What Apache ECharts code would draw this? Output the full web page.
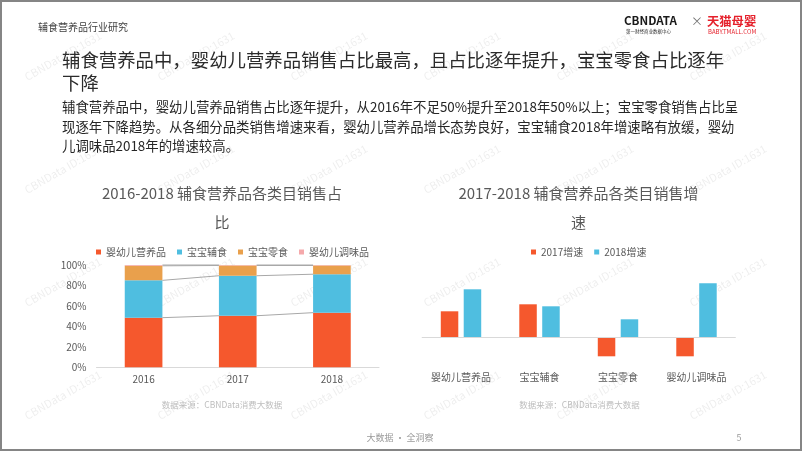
<!DOCTYPE html>
<html>
<head>
<meta charset="utf-8">
<script src="https://cdn.jsdelivr.net/npm/echarts@6/dist/echarts.min.js"></script>
<style>
html,body{margin:0;padding:0;background:#fff;}
#wrap{position:relative;width:802px;height:451px;overflow:hidden;}
#chart{position:absolute;left:0;top:0;width:802px;height:451px;}
#frame{position:absolute;left:0;top:0;width:802px;height:451px;box-sizing:border-box;border:2px solid #858585;pointer-events:none;}
</style>
</head>
<body>
<div id="wrap"><div id="chart"></div><div id="frame"></div></div>
<script>
// ---- data ----
const years = ['2016', '2017', '2018'];
const shareNames = ['婴幼儿营养品', '宝宝辅食', '宝宝零食', '婴幼儿调味品'];
const shareNutrition = [48.5, 50.4, 53.4];
const shareComplementary = [36.5, 39.1, 37.6];
const shareSnack = [14.2, 10.0, 8.5];
const shareSeasoning = [0.8, 0.5, 0.5];
const shareTicks = [0, 20, 40, 60, 80, 100];

const growthCats = ['婴幼儿营养品', '宝宝辅食', '宝宝零食', '婴幼儿调味品'];
const growthNames = ['2017增速', '2018增速'];
const growth2017 = [26, 33, -19, -19];
const growth2018 = [48, 31, 18, 54];

// ---- styles ----
const FONT = "'Noto Sans CJK SC', 'Noto Sans', sans-serif";
const RED = '#F5582D', BLUE = '#4FBEE0', ORANGE = '#E9A04C', PINK = '#F5A9AB';
const AXIS_TXT = '#595959';

// cumulative tops for Excel-style series lines
const shareSeries = [shareNutrition, shareComplementary, shareSnack, shareSeasoning];
const levels = [];
let acc = years.map(() => 0);
shareSeries.forEach(s => { acc = acc.map((v, i) => v + s[i]); levels.push(acc.slice()); });
const seriesLineData = [];
levels.forEach(L => { for (let i = 0; i < years.length - 1; i++) seriesLineData.push([i, L[i], L[i + 1]]); });

const chart = echarts.init(document.getElementById('chart'), null, {renderer: 'canvas'});

function txt(x, y, text, size, color, extra) {
  return {
    type: 'text', x: x, y: y, silent: true,
    style: Object.assign({text: text, fontSize: size, fontFamily: FONT, fill: color, verticalAlign: 'middle', align: 'left'}, extra || {})
  };
}

const graphics = [];
// watermarks
for (let j = 0; j < 4; j++) {
  for (let k = -1; k < 7; k++) {
    graphics.push({
      type: 'text', x: 63 + 133 * k, y: 56 + 113 * j, rotation: 0.52, silent: true, z: -10,
      style: {text: 'CBNData ID:1631', fontSize: 11, fontFamily: FONT, fill: 'rgba(0,0,0,0.07)', align: 'center', verticalAlign: 'middle'}
    });
  }
}
graphics.push(
  txt(38, 27, '辅食营养品行业研究', 10, '#404040'),
  txt(624, 21, 'CBNDATA', 11.6, '#1a1a1a', {fontWeight: 'bold'}),
  txt(626, 31.5, '第一财经商业数据中心', 4.5, '#333'),
  txt(691, 21, '×', 12, '#777'),
  txt(707, 21, '天猫母婴', 12.3, '#E5202B', {fontWeight: 'bold'}),
  txt(708, 31.5, 'BABY.TMALL.COM', 6, '#E5202B'),
  txt(62, 60, '辅食营养品中，婴幼儿营养品销售占比最高，且占比逐年提升，宝宝零食占比逐年', 18.4, '#2b2b2b'),
  txt(62, 83, '下降', 18.4, '#2b2b2b'),
  txt(62, 107, '辅食营养品中，婴幼儿营养品销售占比逐年提升，从2016年不足50%提升至2018年50%以上；宝宝零食销售占比呈', 13.4, '#262626'),
  txt(62, 127, '现逐年下降趋势。从各细分品类销售增速来看，婴幼儿营养品增长态势良好，宝宝辅食2018年增速略有放缓，婴幼', 13.4, '#262626'),
  txt(62, 146, '儿调味品2018年的增速较高。', 13.4, '#262626'),
  txt(222, 193.5, '2016-2018 辅食营养品各类目销售占', 15, AXIS_TXT, {align: 'center'}),
  txt(222, 221.8, '比', 15, AXIS_TXT, {align: 'center'}),
  txt(578.5, 193.5, '2017-2018 辅食营养品各类目销售增', 15, AXIS_TXT, {align: 'center'}),
  txt(578.5, 221.8, '速', 15, AXIS_TXT, {align: 'center'}),
  txt(222, 405, '数据来源：CBNData消费大数据', 8.5, '#bdbdbd', {align: 'center'}),
  txt(579.5, 405, '数据来源：CBNData消费大数据', 8.5, '#bdbdbd', {align: 'center'}),
  txt(400, 438, '大数据 · 全洞察', 9, '#9a9a9a', {align: 'center'}),
  txt(739, 438, '5', 9, '#9a9a9a', {align: 'center'})
);

const option = {
  animation: false,
  textStyle: {fontFamily: FONT},
  graphic: graphics,
  legend: [
    {
      data: shareNames, left: 91, top: 242, itemWidth: 5, itemHeight: 5, itemGap: 11, icon: 'rect',
      textStyle: {fontSize: 10, color: AXIS_TXT, fontFamily: FONT}, selectedMode: false
    },
    {
      data: growthNames, left: 526, top: 242, itemWidth: 5, itemHeight: 5, itemGap: 11, icon: 'rect',
      textStyle: {fontSize: 10, color: AXIS_TXT, fontFamily: FONT}, selectedMode: false
    }
  ],
  grid: [
    {left: 96.5, top: 265, width: 282.5, height: 102.3},
    {left: 421.75, top: 257.3, width: 314, height: 110}
  ],
  xAxis: [
    {
      type: 'category', gridIndex: 0, data: years,
      axisLine: {lineStyle: {color: '#d9d9d9'}}, axisTick: {show: false},
      axisLabel: {color: AXIS_TXT, fontSize: 10, margin: 7, fontFamily: FONT}
    },
    {
      type: 'category', gridIndex: 1, data: growthCats,
      axisLine: {show: false, onZero: false}, axisTick: {show: false},
      axisLabel: {color: AXIS_TXT, fontSize: 10, margin: 5, fontFamily: FONT}
    }
  ],
  yAxis: [
    {
      type: 'value', gridIndex: 0, min: shareTicks[0], max: shareTicks[shareTicks.length - 1], interval: 20,
      axisLine: {show: false}, axisTick: {show: false}, splitLine: {show: false},
      axisLabel: {color: AXIS_TXT, fontSize: 10, margin: 10, formatter: '{value}%', fontFamily: FONT}
    },
    {
      type: 'value', gridIndex: 1, min: -30, max: 80, show: false, splitLine: {show: false}
    }
  ],
  series: [
    {name: shareNames[0], type: 'bar', stack: 'share', xAxisIndex: 0, yAxisIndex: 0, barWidth: '40%', data: shareNutrition, itemStyle: {color: RED}},
    {name: shareNames[1], type: 'bar', stack: 'share', xAxisIndex: 0, yAxisIndex: 0, barWidth: '40%', data: shareComplementary, itemStyle: {color: BLUE}},
    {name: shareNames[2], type: 'bar', stack: 'share', xAxisIndex: 0, yAxisIndex: 0, barWidth: '40%', data: shareSnack, itemStyle: {color: ORANGE}},
    {name: shareNames[3], type: 'bar', stack: 'share', xAxisIndex: 0, yAxisIndex: 0, barWidth: '40%', data: shareSeasoning, itemStyle: {color: PINK}},
    {
      type: 'custom', xAxisIndex: 0, yAxisIndex: 0, data: seriesLineData, silent: true, z: 1,
      encode: {x: 0, y: [1, 2]},
      renderItem: function (params, api) {
        const i = api.value(0), a = api.value(1), b = api.value(2);
        const p1 = api.coord([i, a]), p2 = api.coord([i + 1, b]);
        const half = api.size([1, 0])[0] * 0.4 / 2;
        return {type: 'line', shape: {x1: p1[0] + half, y1: p1[1], x2: p2[0] - half, y2: p2[1]}, style: {stroke: '#a8a8a8', lineWidth: 1}};
      }
    },
    {
      name: growthNames[0], type: 'bar', xAxisIndex: 1, yAxisIndex: 1, barWidth: '22.3%', barGap: '31%', data: growth2017, itemStyle: {color: RED},
      markLine: {silent: true, symbol: 'none', label: {show: false}, lineStyle: {color: '#d9d9d9', type: 'solid', width: 1}, data: [{yAxis: 0}]}
    },
    {name: growthNames[1], type: 'bar', xAxisIndex: 1, yAxisIndex: 1, barWidth: '22.3%', barGap: '31%', data: growth2018, itemStyle: {color: BLUE}}
  ]
};
chart.setOption(option);
</script>
</body>
</html>
